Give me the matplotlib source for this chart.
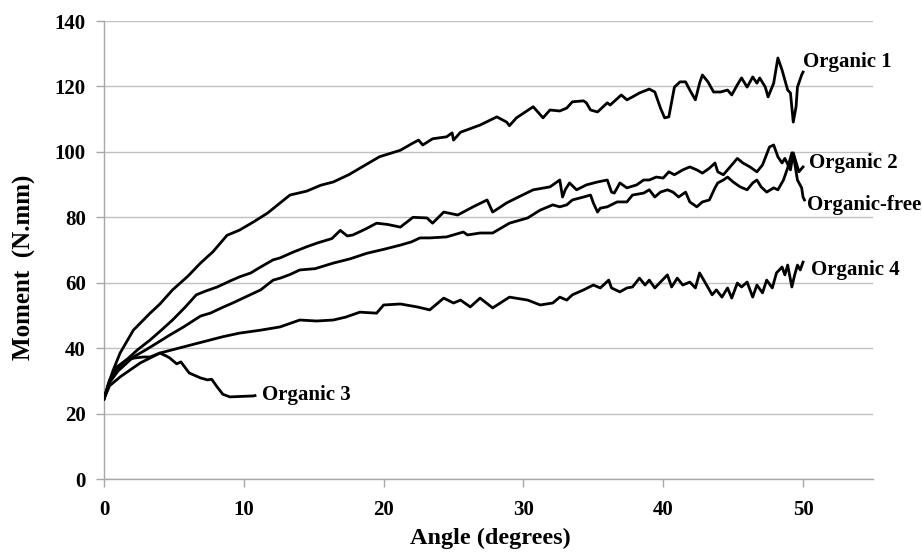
import matplotlib.pyplot as plt

plt.rcParams['font.family'] = ['Liberation Serif', 'DejaVu Serif']
plt.rcParams['font.weight'] = 'bold'

# Organic 1
x_org1 = [0, 0.3, 0.66, 1.15, 2.1, 3.3, 4.0, 4.9, 6.0, 6.9, 7.8, 8.2, 8.8, 9.7, 10.7, 11.7, 12.6, 13.3,
          14.5, 15.5, 16.4, 17.5, 18.5, 19.7, 20.3, 21.2, 22.1, 22.5, 22.8, 23.5, 24.5, 24.9, 25.0, 25.5,
          26.9, 28.1, 28.8, 29.0, 29.5, 30.7, 31.4, 31.9, 32.6, 33.1, 33.5, 34.3, 34.5, 34.8, 35.3, 36.0,
          36.2, 37.0, 37.4, 37.8, 38.3, 39.0, 39.4, 39.8, 40.1, 40.4, 40.8, 41.2, 41.6, 41.9, 42.3, 42.6,
          42.8, 43.2, 43.6, 44.1, 44.6, 44.9, 45.3, 45.6, 46.0, 46.4, 46.7, 46.9, 47.3, 47.5, 47.9, 48.2,
          48.5, 48.9, 49.1, 49.3, 49.5, 49.6, 49.9, 50.0]
y_org1 = [24.5, 29, 33.3, 38.5, 45.5, 50.7, 53.5, 57.8, 62, 66, 69.5, 71.5, 74.5, 76.1, 78.6, 81.3, 84.4, 86.8,
          88, 89.8, 90.8, 93, 95.5, 98.5, 99.3, 100.5, 102.7, 103.6, 102.1, 104, 104.6, 105.8, 103.6, 106,
          108.2, 110.7, 109.1, 108, 110.4, 113.8, 110.4, 112.8, 112.5, 113.4, 115.3, 115.6, 115, 112.8, 112.2, 115,
          114.3, 117.4, 115.9, 116.8, 118, 119.2, 118.3, 113.4, 110.4, 110.7, 119.8, 121.4, 121.4, 118.9, 115.9, 121,
          123.5, 121.4, 118.3, 118.3, 118.9, 117.4, 120.5, 122.6, 119.8, 122.9, 121, 122.6, 119.8, 116.8, 121, 128.7,
          125, 118.9, 118, 109.1, 113.8, 119.8, 123.5, 124.4]

# Organic 2
x_org2 = [0, 0.4, 0.9, 1.6, 2.4, 3.3, 4.1, 4.9, 5.8, 6.6, 7.3, 8.1, 9.0, 9.7, 10.5, 11.2, 12.1, 12.6, 13.5,
          14.5, 15.3, 16.3, 16.9, 17.4, 17.8, 18.7, 19.5, 20.3, 21.2, 22.1, 23.1, 23.5, 24.3, 25.3, 26.4,
          27.4, 27.8, 28.8, 29.5, 30.7, 31.9, 32.6, 32.8, 33.0, 33.3, 33.8, 34.5, 35.3, 36.0, 36.3, 36.5,
          36.9, 37.4, 38.1, 38.6, 39.0, 39.5, 40.0, 40.4, 40.8, 41.4, 41.9, 42.4, 42.8, 43.3, 43.7, 43.9,
          44.3, 44.8, 45.3, 45.7, 46.2, 46.7, 47.1, 47.6, 47.9, 48.2, 48.5, 48.7, 49.1, 49.3, 49.6, 49.7, 50.0]
y_org2 = [24.5, 30, 33.5, 36.4, 39.5, 42.5, 45.5, 48.6, 52.5, 56.3, 57.5, 58.7, 60.5, 61.8, 63, 64.8, 67, 67.6, 69.3,
          71, 72.2, 73.5, 76, 74.3, 74.6, 76.4, 78.2, 77.8, 77, 80, 79.8, 78.2, 81.6, 80.7, 83.2,
          85.3, 81.6, 84.4, 85.9, 88.4, 89.3, 91.4, 86.2, 88.5, 90.5, 88.4, 89.9, 90.8, 91.4, 87.7, 87.4,
          90.5, 89, 89.9, 91.4, 91.4, 92.3, 92, 93.9, 93, 94.5, 95.4, 94.5, 93.5, 95, 96.6, 93.9,
          93, 95.5, 98, 96.6, 95.4, 93.9, 96, 101.5, 102.1, 98.5, 96.6, 98, 94.5, 99.7, 95.4, 93.9, 95.4]

# Organic-free
x_free = [0, 0.4, 1.0, 2.1, 3.0, 3.8, 4.7, 5.7, 6.9, 7.6, 8.4, 9.2, 10.2, 11.2, 12.1, 12.6, 13.3, 14.0, 15.1,
          16.4, 17.6, 18.8, 20.0, 21.2, 22.0, 22.6, 23.3, 24.5, 25.7, 26.0, 26.9, 27.8, 29.0, 30.3, 31.2,
          32.1, 32.6, 33.1, 33.5, 34.3, 34.8, 35.0, 35.3, 35.5, 36.0, 36.7, 37.4, 37.8, 38.6, 39.0, 39.4,
          39.8, 40.3, 40.7, 41.1, 41.6, 41.9, 42.4, 42.8, 43.3, 43.7, 43.9, 44.3, 44.6, 45.0, 45.5, 46.0,
          46.4, 46.7, 47.0, 47.4, 47.9, 48.2, 48.6, 48.9, 49.2, 49.4, 49.6, 49.9, 50.0, 50.1]
y_free = [24.5, 29.5, 33, 37.3, 39.5, 41.6, 44, 46.5, 49.8, 50.7, 52.3, 53.8, 55.8, 57.8, 60.8, 61.4, 62.5, 63.9, 64.3,
          66, 67.3, 69, 70.2, 71.5, 72.5, 73.7, 73.7, 74, 75.5, 74.6, 75.2, 75.2, 78.2, 79.8, 82.2,
          83.8, 83.2, 83.8, 85.3, 86.2, 86.8, 84.4, 81.6, 82.8, 83.2, 84.7, 84.7, 86.8, 87.4, 88.4, 86.2,
          87.7, 88.4, 87.7, 86.2, 87.7, 84.7, 83.2, 84.7, 85.3, 89, 90.5, 91.4, 92.3, 90.8, 89.3, 88.4,
          90.5, 91.4, 89.3, 87.7, 89, 88.4, 91.4, 95.1, 99.7, 96.6, 91.4, 89, 86.2, 85.3]

# Organic 3
x_org3 = [0, 0.4, 0.9, 1.6, 2.2, 2.8, 3.3, 4.0, 4.5, 4.7, 5.2, 5.5, 5.9, 6.1, 6.9, 7.4, 7.7, 8.1, 8.5, 9.0, 10.7, 10.8]
y_org3 = [24.5, 30, 34.2, 36.4, 37, 37.3, 37.3, 38.5, 37.5, 37, 35.2, 35.8, 33.5, 32.4, 30.9, 30.3, 30.5, 28.1,
          25.9, 25.1, 25.4, 25.5]

# Organic 4
x_org4 = [0, 0.4, 1.15, 2.6, 4.0, 5.7, 7.6, 8.5, 9.7, 11.2, 12.6, 14.0, 15.2, 16.4, 17.3, 18.3, 19.5, 20.0,
          21.2, 22.4, 23.3, 24.3, 25.0, 25.5, 26.2, 26.9, 27.8, 29.0, 30.3, 31.2, 32.1, 32.6, 33.1, 33.5,
          34.3, 35.0, 35.5, 36.1, 36.3, 36.9, 37.4, 37.8, 38.3, 38.7, 39.0, 39.4, 39.8, 40.3, 40.6, 41.0,
          41.4, 41.9, 42.3, 42.6, 43.1, 43.5, 43.8, 44.2, 44.6, 44.9, 45.3, 45.6, 46.0, 46.4, 46.7, 47.1,
          47.4, 47.8, 48.1, 48.5, 48.7, 48.9, 49.2, 49.4, 49.6, 49.8, 50.0]
y_org4 = [24.5, 28.5, 31.2, 35.5, 38.5, 40.4, 42.5, 43.5, 44.6, 45.5, 46.5, 48.6, 48.3, 48.6, 49.5, 51, 50.7, 53.2,
          53.5, 52.6, 51.7, 55.3, 53.8, 54.7, 52.6, 55.3, 52.3, 55.6, 54.7, 53.2, 53.8, 55.6, 54.7, 56.3,
          57.8, 59.3, 58.4, 60.8, 58.4, 57.2, 58.4, 58.7, 61.4, 59.3, 60.8, 58.4, 60.2, 62.4, 58.7, 61.4,
          59.3, 60.2, 58.4, 63, 59.3, 56.3, 57.8, 55.6, 58.4, 55.3, 59.9, 58.7, 60.2, 55.6, 59.3, 56.9,
          60.8, 58.4, 63, 64.8, 62.4, 65.4, 58.7, 62.4, 65.4, 63.9, 66.3]

series = [(x_org1, y_org1), (x_org2, y_org2), (x_free, y_free), (x_org3, y_org3), (x_org4, y_org4)]

# label text and anchor (data coords)
labels = ['Organic 1', 'Organic 2', 'Organic-free', 'Organic 3', 'Organic 4']
label_x = [50.0, 50.4, 50.3, 11.3, 50.6]
label_y = [127.5, 96.6, 83.8, 25.7, 63.9]

fig = plt.figure(figsize=(9.22, 5.53), dpi=100)
ax = fig.add_axes([0.1128, 0.1338, 0.834, 0.8282])

for xs, ys in series:
    ax.plot(xs, ys, color='black', lw=2.0, zorder=3)

for txt, lx, ly in zip(labels, label_x, label_y):
    ax.text(lx, ly, txt, fontsize=15, fontweight='bold', ha='left', va='center', zorder=4)

ax.set_xlim(0, 55)
ax.set_ylim(0, 140)
ax.set_xticks([0, 10, 20, 30, 40, 50])
ax.set_yticks(range(0, 141, 20))
ax.yaxis.grid(True, color='#c0c0c0', lw=1)
ax.set_axisbelow(True)

for s in ['top', 'right']:
    ax.spines[s].set_visible(False)
for s in ['left', 'bottom']:
    ax.spines[s].set_color('#a8a8a8')
    ax.spines[s].set_linewidth(1)

ax.tick_params(axis='both', colors='#a8a8a8', labelcolor='black', labelsize=15, length=6, width=1)
ax.tick_params(axis='x', pad=9)
ax.tick_params(axis='y', pad=7)

ax.set_xlabel('Angle (degrees)', fontsize=17.5, fontweight='bold')
ax.set_ylabel('Moment  (N.mm)', fontsize=18, fontweight='bold')
ax.xaxis.label.set_verticalalignment('center')
ax.yaxis.label.set_verticalalignment('center')
ax.xaxis.set_label_coords(0.503, -0.13)
ax.yaxis.set_label_coords(-0.104, 0.463)

plt.savefig('out.png', dpi=100)
